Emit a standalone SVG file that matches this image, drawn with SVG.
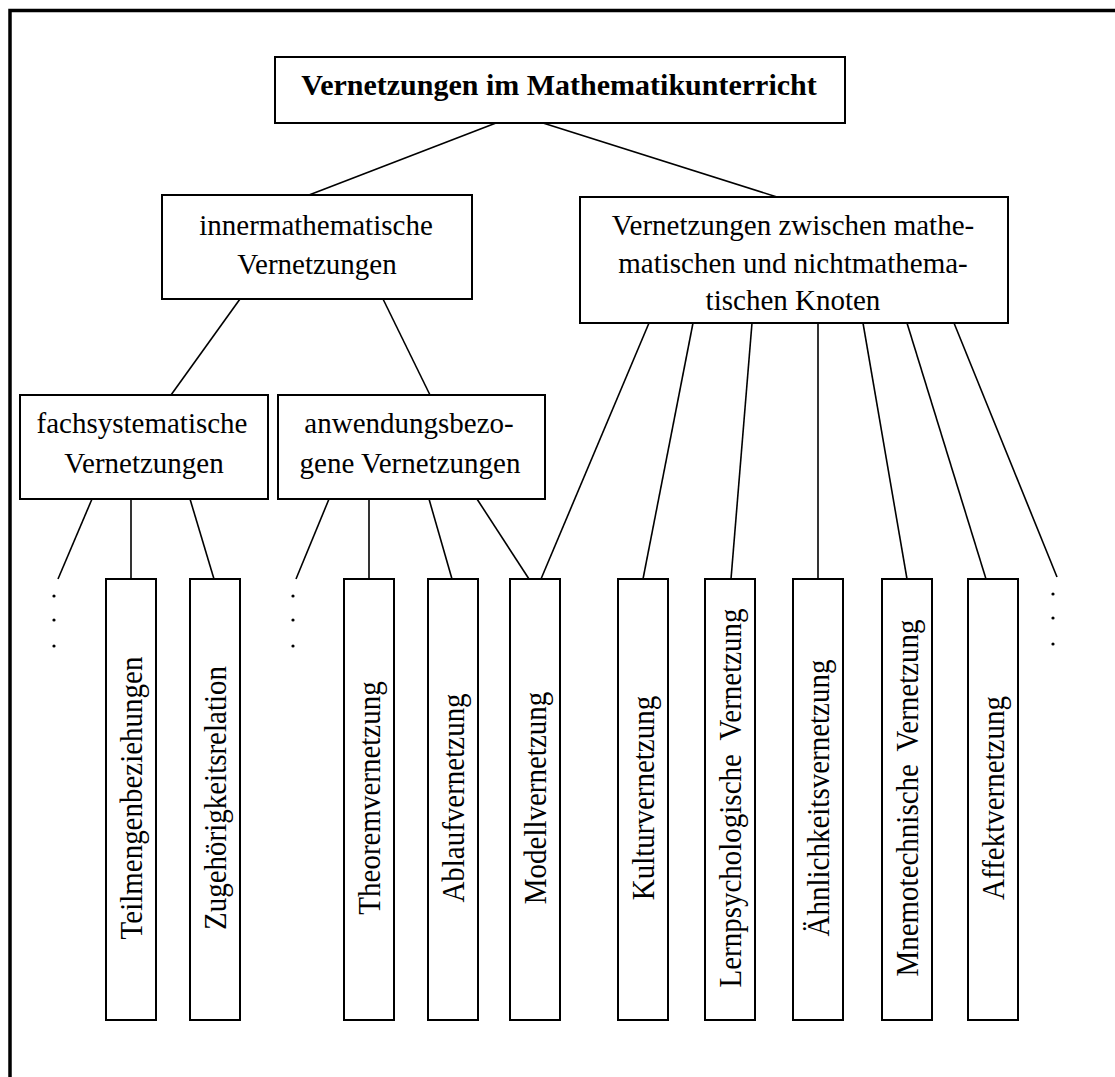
<svg xmlns="http://www.w3.org/2000/svg" width="1115" height="1077" viewBox="0 0 1115 1077">
  <style>
    .box { fill: #fff; stroke: #000; stroke-width: 2; }
    .link { stroke: #000; stroke-width: 1.6; fill: none; }
    .frame { stroke: #000; stroke-width: 3.5; fill: none; }
    text { font-family: "Liberation Serif", "Times New Roman", serif; font-size: 29px; fill: #000; text-anchor: middle; }
    .title { font-weight: bold; font-size: 30px; }
    .dot { fill: #000; }
  </style>

  <rect x="0" y="0" width="1115" height="1077" fill="#fff"/>
  <path class="frame" d="M10,1077 V10.5 H1115"/>

  <!-- connectors -->
  <g id="connectors">
    <line class="link" x1="496" y1="123" x2="309" y2="195"/>
    <line class="link" x1="543" y1="123" x2="777" y2="197"/>
    <line class="link" x1="240" y1="299" x2="171" y2="395"/>
    <line class="link" x1="383" y1="299" x2="430" y2="395"/>
    <line class="link" x1="92" y1="499" x2="58" y2="579"/>
    <line class="link" x1="131" y1="499" x2="131" y2="579"/>
    <line class="link" x1="190" y1="499" x2="214" y2="579"/>
    <line class="link" x1="329" y1="499" x2="296" y2="579"/>
    <line class="link" x1="369" y1="499" x2="369" y2="579"/>
    <line class="link" x1="429" y1="499" x2="452" y2="579"/>
    <line class="link" x1="477" y1="499" x2="529" y2="579"/>
    <line class="link" x1="649" y1="323" x2="541" y2="579"/>
    <line class="link" x1="693" y1="323" x2="643" y2="579"/>
    <line class="link" x1="752" y1="323" x2="731" y2="579"/>
    <line class="link" x1="818" y1="323" x2="818" y2="579"/>
    <line class="link" x1="863" y1="323" x2="907" y2="579"/>
    <line class="link" x1="907" y1="323" x2="986" y2="579"/>
    <line class="link" x1="954" y1="323" x2="1057" y2="577"/>
  </g>

  <!-- continuation dots -->
  <g id="dots-left">
    <circle class="dot" cx="54" cy="596" r="1.6"/>
    <circle class="dot" cx="54" cy="620" r="1.6"/>
    <circle class="dot" cx="54" cy="646" r="1.6"/>
  </g>
  <g id="dots-middle">
    <circle class="dot" cx="293" cy="596" r="1.6"/>
    <circle class="dot" cx="293" cy="620" r="1.6"/>
    <circle class="dot" cx="293" cy="646" r="1.6"/>
  </g>
  <g id="dots-right">
    <circle class="dot" cx="1053" cy="594" r="1.6"/>
    <circle class="dot" cx="1053" cy="618" r="1.6"/>
    <circle class="dot" cx="1053" cy="644" r="1.6"/>
  </g>

  <!-- top level -->
  <g id="root">
    <rect class="box" x="275" y="57" width="570" height="66"/>
    <text class="title" x="559" y="95">Vernetzungen im Mathematikunterricht</text>
  </g>

  <!-- second level -->
  <g id="inner">
    <rect class="box" x="162" y="195" width="310" height="104"/>
    <text x="316" y="235">innermathematische</text>
    <text x="317" y="274">Vernetzungen</text>
  </g>
  <g id="outer">
    <rect class="box" x="580" y="197" width="428" height="126"/>
    <text x="793" y="235">Vernetzungen zwischen mathe-</text>
    <text x="793" y="273">matischen und nichtmathema-</text>
    <text x="793" y="310">tischen Knoten</text>
  </g>

  <!-- third level -->
  <g id="fach">
    <rect class="box" x="20" y="395" width="248" height="104"/>
    <text x="142" y="433">fachsystematische</text>
    <text x="144" y="473">Vernetzungen</text>
  </g>
  <g id="anw">
    <rect class="box" x="278" y="395" width="267" height="104"/>
    <text x="409" y="433">anwendungsbezo-</text>
    <text x="410" y="473">gene Vernetzungen</text>
  </g>

  <!-- leaves (vertical labels) -->
  <g id="teilmengen">
    <rect class="box" x="106" y="579" width="50" height="441"/>
    <text transform="translate(141.5,798) rotate(-90) scale(1,1.12)">Teilmengenbeziehungen</text>
  </g>
  <g id="zugehoerigkeit">
    <rect class="box" x="190" y="579" width="50" height="441"/>
    <text transform="translate(225.5,798) rotate(-90) scale(1,1.12)">Zugehörigkeitsrelation</text>
  </g>
  <g id="theorem">
    <rect class="box" x="344" y="579" width="50" height="441"/>
    <text transform="translate(379.5,798) rotate(-90) scale(1,1.12)">Theoremvernetzung</text>
  </g>
  <g id="ablauf">
    <rect class="box" x="428" y="579" width="50" height="441"/>
    <text transform="translate(463.5,798) rotate(-90) scale(1,1.12)">Ablaufvernetzung</text>
  </g>
  <g id="modell">
    <rect class="box" x="510" y="579" width="50" height="441"/>
    <text transform="translate(545.5,798) rotate(-90) scale(1,1.12)">Modellvernetzung</text>
  </g>
  <g id="kultur">
    <rect class="box" x="618" y="579" width="50" height="441"/>
    <text transform="translate(653.5,798) rotate(-90) scale(1,1.12)">Kulturvernetzung</text>
  </g>
  <g id="lernpsych">
    <rect class="box" x="705" y="579" width="50" height="441"/>
    <text transform="translate(740.5,798) rotate(-90) scale(1,1.12)" word-spacing="7">Lernpsychologische Vernetzung</text>
  </g>
  <g id="aehnlichkeit">
    <rect class="box" x="793" y="579" width="50" height="441"/>
    <text transform="translate(828.5,798) rotate(-90) scale(1,1.12)">Ähnlichkeitsvernetzung</text>
  </g>
  <g id="mnemo">
    <rect class="box" x="882" y="579" width="50" height="441"/>
    <text transform="translate(917.5,798) rotate(-90) scale(1,1.12)" word-spacing="6">Mnemotechnische Vernetzung</text>
  </g>
  <g id="affekt">
    <rect class="box" x="968" y="579" width="50" height="441"/>
    <text transform="translate(1003.5,798) rotate(-90) scale(1,1.12)">Affektvernetzung</text>
  </g>
</svg>
